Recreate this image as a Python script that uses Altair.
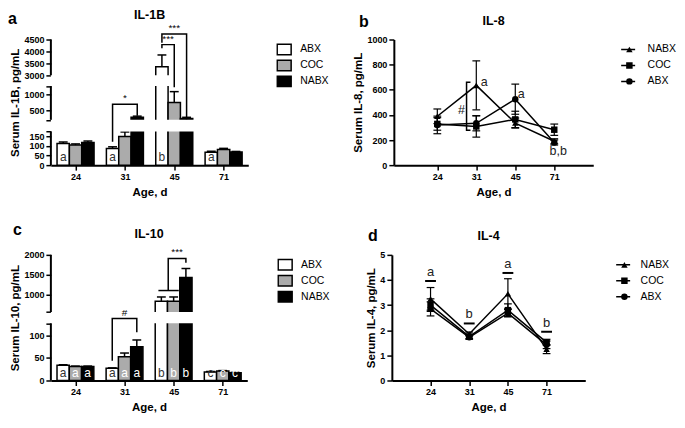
import json
import altair as alt
import pandas as pd

FONT = "Liberation Sans"

# ---------------- data ----------------
ages = ["24", "31", "45", "71"]
bar_groups = ["ABX", "COC", "NABX"]
bar_fills = ["white", "#ababab", "black"]
bar_letter_colors = ["#333333", "white", "white"]
line_groups = ["NABX", "COC", "ABX"]
line_shapes = ["triangle-up", "square", "circle"]

# Panel a: IL-1B (mean, SEM)
il1b_abx = [112, 86, 3350, 67]
il1b_abx_err = [8, 9, 500, 5]
il1b_coc = [104, 148, 750, 81]
il1b_coc_err = [6, 24, 330, 6]
il1b_nabx = [118, 300, 255, 68]
il1b_nabx_err = [7, 30, 40, 3]
il1b_letters_abx = ["a", "a", "b", "a"]
il1b_letters_coc = ["", "", "", ""]
il1b_letters_nabx = ["", "", "", ""]

# Panel c: IL-10 (mean, SEM)
il10_abx = [34, 27, 825, 19]
il10_abx_err = [1, 1, 110, 1]
il10_coc = [31, 53, 825, 21]
il10_coc_err = [1, 8, 110, 1]
il10_nabx = [31, 75, 1425, 17]
il10_nabx_err = [1, 15, 230, 1]
il10_letters_abx = ["a", "a", "b", "c"]
il10_letters_coc = ["a", "a", "b", "c"]
il10_letters_nabx = ["a", "a", "b", "c"]

# Panel b: IL-8 (mean, SEM)
il8_nabx = [389, 635, 335, 190]
il8_nabx_err = [58, 195, 40, 20]
il8_coc = [328, 308, 364, 282]
il8_coc_err = [50, 85, 65, 45]
il8_abx = [320, 333, 525, 180]
il8_abx_err = [70, 60, 120, 20]

# Panel d: IL-4 (mean, SEM)
il4_nabx = [3.25, 1.85, 3.45, 1.25]
il4_nabx_err = [0.45, 0.08, 0.6, 0.18]
il4_coc = [3.0, 1.75, 2.8, 1.52]
il4_coc_err = [0.25, 0.08, 0.25, 0.12]
il4_abx = [2.85, 1.72, 2.68, 1.42]
il4_abx_err = [0.28, 0.08, 0.15, 0.15]

# broken-axis definitions (value domain pieces) and where each break sits (fraction of height)
il1b_axis_pieces = [[0, 175], [218, 1250], [3000, 4500]]
il1b_piece_pos = [1, 0.7314, 0.6393, 0.3707, 0.2840, 0]
il1b_ticks = [0, 50, 100, 150, 500, 1000, 3000, 3500, 4000, 4500]
il10_axis_pieces = [[0, 127], [554, 2000]]
il10_piece_pos = [1, 0.5449, 0.4551, 0]
il10_ticks = [0, 50, 100, 1000, 1500, 2000]

# significance brackets: (age index, left member offset, right member offset,
#                         left leg end, top, right leg end, label)
il1b_brackets = [
    (1, -0.25, 0.25, 121, 697, 344, "*"),
    (2, -0.25, 0.0, 4135, 4285, 1218, "***"),
    (2, -0.25, 0.25, 4366, 4730, 235, "***"),
]
il10_brackets = [
    (1, -0.25, 0.25, 44, 309, 107, "#"),
    (2, -0.31, 0.105, 1098, 1098, 1098, ""),
    (2, -0.11, 0.25, 1098, 1910, 1798, "***"),
]
il8_text = [(1.2, 664, "a"), (2.15, 569, "a"), (3.1, 110, "b,b"), (0.62, 440, "#")]
il8_hash_bracket = (0.75, 0.85, 277, 659)
il4_letters = ["a", "b", "a", "b"]
il4_letter_levels = [3.96, 2.27, 4.28, 1.94]

X_LABELS = "%s[datum.value]" % json.dumps(ages)
H = 126


def headings(letter, lx, ly, title, W, ty):
    d = pd.DataFrame({"t": [letter], "h": [title]})
    let = alt.Chart(d).mark_text(
        align="left", baseline="alphabetic", fontSize=16, fontWeight="bold",
        font=FONT, color="black").encode(text="t:N", x=alt.value(lx), y=alt.value(ly))
    tit = alt.Chart(d).mark_text(
        align="center", baseline="alphabetic", fontSize=12.5, fontWeight="bold",
        font=FONT, color="black").encode(text="h:N", x=alt.value(W / 2), y=alt.value(ty))
    return [let, tit]


def bar_panel(means, errs, letters, pieces, piece_pos, ticks, brackets, title, ytitle,
              letter, W, leg_xy, letter_xy, title_y):
    rows = []
    for gi, g in enumerate(bar_groups):
        for i, a in enumerate(ages):
            rows.append(dict(age=a, i=i, group=g, gidx=gi, mean=means[gi][i],
                             err=errs[gi][i], lab=letters[gi][i],
                             tcol=bar_letter_colors[gi]))
    df = pd.DataFrame(rows)
    dom = [v for p in pieces for v in p]
    caps = [v for v in dom if v not in ticks]
    xs = alt.Scale(domain=[-0.5, 3.5], nice=False, zero=False)
    ys = alt.Scale(domain=dom, range=[f * H for f in piece_pos], nice=False, zero=False)

    def X(f, **k):
        return alt.X(f, scale=xs, **k)

    def Y(f, **k):
        return alt.Y(f, scale=ys, **k)

    xaxis = alt.Axis(values=[0, 1, 2, 3], labelExpr=X_LABELS, title="Age, d",
                     grid=False, titlePadding=5, labelOverlap=False, tickCount=100)
    yaxis = alt.Axis(values=sorted(ticks + caps), format="d", labelOverlap=False,
                     tickCount=100,
                     labelExpr="indexof(%s, datum.value) >= 0 ? '' : datum.label" % json.dumps(caps),
                     title=ytitle, domain=False, grid=False, titlePadding=3)
    base = alt.Chart(df).transform_calculate(
        xc="datum.i + (datum.gidx - 1) * 0.25",
        top="datum.mean + datum.err",
        zero="0",
    ).transform_calculate(
        xl="datum.xc - 0.125", xr="datum.xc + 0.125",
        cl="datum.xc - 0.09", cr="datum.xc + 0.09",
    )
    bars = base.mark_bar(stroke="black", strokeWidth=1.5).encode(
        x=alt.X("xl:Q", scale=xs, axis=xaxis),
        x2="xr:Q",
        y=alt.Y("mean:Q", scale=ys, axis=yaxis),
        y2=alt.datum(0),
        fill=alt.Fill("group:N", scale=alt.Scale(domain=bar_groups, range=bar_fills),
                      legend=alt.Legend(orient="none", legendX=leg_xy[0], legendY=leg_xy[1],
                                        title=None, symbolType="M-1,-0.75H1V0.75H-1Z",
                                        symbolSize=196, symbolStrokeColor="black",
                                        symbolStrokeWidth=1.5, labelOffset=8,
                                        clipHeight=14, rowPadding=2, padding=0)),
    )
    err = base.mark_rule(color="black", strokeWidth=1.5).encode(
        x=X("xc:Q"), y=Y("mean:Q"), y2="top:Q")
    cap = base.mark_rule(color="black", strokeWidth=1.5).encode(
        x=X("cl:Q"), x2="cr:Q", y=Y("top:Q"))
    gaps = pd.DataFrame({"lo": [pieces[k][1] for k in range(len(pieces) - 1)],
                         "hi": [pieces[k + 1][0] for k in range(len(pieces) - 1)]})
    gap = alt.Chart(gaps).mark_rect(fill="white").encode(
        x=alt.value(0), x2=alt.value(W), y=Y("lo:Q"), y2="hi:Q")
    segs = pd.DataFrame({"lo": [p[0] for p in pieces], "hi": [p[1] for p in pieces]})
    seg = alt.Chart(segs).mark_rule(color="black", strokeWidth=2).encode(
        x=alt.value(0), y=Y("lo:Q"), y2="hi:Q")
    labs = base.mark_text(baseline="bottom", dy=-1, fontSize=12, font=FONT).encode(
        x=X("xc:Q"), y=Y("zero:Q"),
        text="lab:N", color=alt.Color("tcol:N", scale=None))
    brow = []
    trow = []
    for b, (gi, lo_off, ro_off, ly, ty, ry, lab) in enumerate(brackets):
        pts = [(gi + lo_off, ly), (gi + lo_off, ty), (gi + ro_off, ty), (gi + ro_off, ry)]
        for k, (px, py) in enumerate(pts):
            brow.append(dict(bid=b, k=k, bx=px, by=py))
        trow.append(dict(tx=gi + (lo_off + ro_off) / 2, ty=ty, t=lab))
    br = alt.Chart(pd.DataFrame(brow)).mark_line(color="black", strokeWidth=1.5).encode(
        x=X("bx:Q"), y=Y("by:Q"), detail="bid:N", order="k:Q")
    bt = alt.Chart(pd.DataFrame(trow)).mark_text(baseline="bottom", dy=-1, fontSize=10,
                                                 font=FONT, color="black").encode(
        x=X("tx:Q"), y=Y("ty:Q"), text="t:N")
    return alt.layer(bars, err, cap, gap, seg, labs, br, bt,
                     *headings(letter, letter_xy[0], letter_xy[1], title, W, title_y)
                     ).properties(width=W, height=H)


def line_panel(means, errs, ydom, yticks, title, ytitle, letter, W, xdom,
               leg_xy, label_offset, letter_xy, title_y, extra):
    rows = []
    for si, s in enumerate(line_groups):
        for i, a in enumerate(ages):
            rows.append(dict(age=a, i=i, series=s, lser="line " + s,
                             mean=means[si][i], err=errs[si][i]))
    df = pd.DataFrame(rows)
    xs = alt.Scale(domain=xdom, nice=False, zero=False)
    ys = alt.Scale(domain=ydom, nice=False, zero=True)

    def X(f, **k):
        return alt.X(f, scale=xs, **k)

    def Y(f, **k):
        return alt.Y(f, scale=ys, **k)

    xaxis = alt.Axis(values=[0, 1, 2, 3], labelExpr=X_LABELS, title="Age, d",
                     grid=False, titlePadding=5, labelOverlap=False, tickCount=100)
    yaxis = alt.Axis(values=yticks, format="d", title=ytitle, grid=False,
                     titlePadding=3, labelOverlap=False, tickCount=100)
    base = alt.Chart(df).transform_calculate(
        lo="datum.mean - datum.err", hi="datum.mean + datum.err",
        cl="datum.i - 0.1", cr="datum.i + 0.1")
    lines = base.mark_line(strokeWidth=1.5).encode(
        x=alt.X("i:Q", scale=xs, axis=xaxis),
        y=alt.Y("mean:Q", scale=ys, axis=yaxis),
        color=alt.Color("lser:N",
                        scale=alt.Scale(domain=["line " + s for s in line_groups],
                                        range=["black"] * 3),
                        legend=alt.Legend(orient="none", legendX=leg_xy[0], legendY=leg_xy[1],
                                          title=None, symbolType="stroke", symbolSize=196,
                                          symbolStrokeWidth=1.5, labelExpr="''",
                                          clipHeight=14, rowPadding=2, padding=0)),
    )
    eb = base.mark_rule(color="black", strokeWidth=1.2).encode(
        x=X("i:Q"), y=Y("lo:Q"), y2="hi:Q")
    c1 = base.mark_rule(color="black", strokeWidth=1.2).encode(
        x=X("cl:Q"), x2="cr:Q", y=Y("lo:Q"))
    c2 = base.mark_rule(color="black", strokeWidth=1.2).encode(
        x=X("cl:Q"), x2="cr:Q", y=Y("hi:Q"))
    pts = base.mark_point(filled=True, size=42, color="black", opacity=1).encode(
        x=X("i:Q"), y=Y("mean:Q"),
        shape=alt.Shape("series:N", scale=alt.Scale(domain=line_groups, range=line_shapes),
                        legend=alt.Legend(orient="none", legendX=leg_xy[0] + 4,
                                          legendY=leg_xy[1], title=None, symbolSize=42,
                                          symbolFillColor="black", symbolStrokeColor="black",
                                          labelOffset=label_offset, clipHeight=14,
                                          rowPadding=2, padding=0)),
    )
    layers = [lines, eb, c1, c2, pts]
    layers += extra(X, Y)
    layers += headings(letter, letter_xy[0], letter_xy[1], title, W, title_y)
    return alt.layer(*layers).properties(width=W, height=H)


def il8_extra(X, Y):
    t = pd.DataFrame([dict(tx=x, ty=y, t=s) for x, y, s in il8_text])
    txt = alt.Chart(t).mark_text(fontSize=12.5, font=FONT, color="#222222").encode(
        x=X("tx:Q"), y=Y("ty:Q"), text="t:N")
    hx, hc, hlo, hhi = il8_hash_bracket
    bp = pd.DataFrame([dict(k=0, bx=hc, by=hlo), dict(k=1, bx=hx, by=hlo),
                       dict(k=2, bx=hx, by=hhi), dict(k=3, bx=hc, by=hhi)])
    br = alt.Chart(bp).mark_line(color="black", strokeWidth=1.5).encode(
        x=X("bx:Q"), y=Y("by:Q"), order="k:Q")
    return [br, txt]


def il4_extra(X, Y):
    d = pd.DataFrame(dict(i=list(range(4)), lv=il4_letter_levels, t=il4_letters))
    b = alt.Chart(d).transform_calculate(l="datum.i - 0.14", r="datum.i + 0.14")
    ul = b.mark_rule(color="black", strokeWidth=2).encode(
        x=X("l:Q"), x2="r:Q", y=Y("lv:Q"))
    tx = b.mark_text(baseline="bottom", dy=-2, fontSize=13, font=FONT, color="#222222").encode(
        x=X("i:Q"), y=Y("lv:Q"), text="t:N")
    return [ul, tx]


pa = bar_panel([il1b_abx, il1b_coc, il1b_nabx], [il1b_abx_err, il1b_coc_err, il1b_nabx_err],
               [il1b_letters_abx, il1b_letters_coc, il1b_letters_nabx],
               il1b_axis_pieces, il1b_piece_pos, il1b_ticks, il1b_brackets, "IL-1B",
               "Serum IL-1B, pg/mL", "a", 198, (226, 3), (-43, -16), -21)
pc = bar_panel([il10_abx, il10_coc, il10_nabx], [il10_abx_err, il10_coc_err, il10_nabx_err],
               [il10_letters_abx, il10_letters_coc, il10_letters_nabx],
               il10_axis_pieces, il10_piece_pos, il10_ticks, il10_brackets, "IL-10",
               "Serum IL-10, pg/mL", "c", 197, (227, 3), (-38, -20), -17)
pb = line_panel([il8_nabx, il8_coc, il8_abx], [il8_nabx_err, il8_coc_err, il8_abx_err],
                [0, 1000], [0, 200, 400, 600, 800, 1000], "IL-8", "Serum IL-8, pg/mL",
                "b", 200, [-1.115, 4.0], (227, 3), 13, (-35, -13), -15, il8_extra)
pd_ = line_panel([il4_nabx, il4_coc, il4_abx], [il4_nabx_err, il4_coc_err, il4_abx_err],
                 [0, 5], [0, 1, 2, 3, 4, 5], "IL-4", "Serum IL-4, pg/mL",
                 "d", 194, [-1.0, 4.0], (224, 3), 11, (-24, -14), -15, il4_extra)

RS = dict(fill="independent", color="independent", shape="independent")
top = alt.hconcat(pa, pb, spacing=146, bounds="flush").resolve_scale(**RS).resolve_legend(**RS)
bottom = alt.hconcat(pc, pd_, spacing=145, bounds="flush").resolve_scale(**RS).resolve_legend(**RS)
# with flush bounds the nested rows count as zero height, so spacing = plot height + gap
chart = alt.vconcat(top, bottom, spacing=H + 90, bounds="flush").resolve_scale(**RS).resolve_legend(**RS).properties(
    padding={"left": 0, "top": 0, "right": 0, "bottom": 0})

chart = chart.configure_view(stroke=None).configure_axis(
    labelFont=FONT, labelFontWeight="bold", labelFontSize=9, labelColor="black",
    titleFont=FONT, titleFontWeight="bold", titleFontSize=11.5, titleColor="black",
    tickColor="black", tickWidth=1.5, tickSize=5, domainColor="black", domainWidth=2,
    labelPadding=2, labelOverlap=False,
).configure_legend(
    labelFont=FONT, labelFontSize=10.5, labelColor="black",
)

chart.save("out.html", embed_options={"renderer": "svg", "actions": False})
